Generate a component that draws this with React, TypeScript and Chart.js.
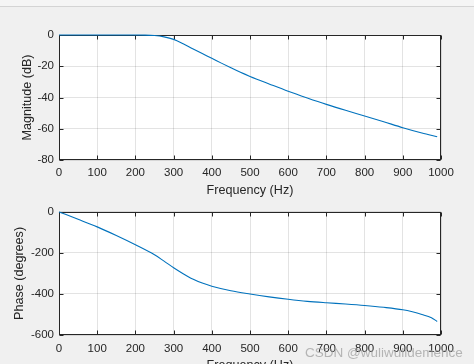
import React, { useEffect, useRef } from "react";
import { Chart, registerables } from "chart.js";
Chart.register(...registerables);

// ---- data ----
const magFreqHz = [0, 50, 100, 150, 200, 225, 250, 275, 300, 325, 350, 375, 400, 425, 450, 475, 500, 550, 600, 650, 700, 750, 800, 850, 900, 950, 990];
const magnitudeDb = [0, 0, 0, 0, 0, -0.05, -0.35, -1.2, -2.8, -5.6, -8.8, -11.9, -14.9, -18.0, -21.0, -23.9, -26.5, -31.3, -36.0, -40.3, -44.4, -48.2, -51.8, -55.5, -59.3, -62.7, -65.1];
const phaseFreqHz = [0, 50, 100, 150, 200, 250, 275, 300, 325, 350, 375, 400, 450, 500, 550, 600, 650, 700, 750, 800, 850, 900, 925, 950, 975, 990];
const phaseDeg = [0, -36, -73, -115, -160, -209, -240, -272, -301, -327, -347, -362, -384, -400, -414, -426, -436, -443, -449, -456, -465, -477, -487, -500, -516, -534];
const freqTicks = [0, 100, 200, 300, 400, 500, 600, 700, 800, 900, 1000];
const magTicks = [-80, -60, -40, -20, 0];
const phaseTicks = [-600, -400, -200, 0];

const FONT = "'Liberation Sans', Arial, Helvetica, sans-serif";
const INK = "#262626";
const LINE = "#0072BD";

const boxPlugin = {
  id: "matlabBox",
  beforeDraw(chart: any) {
    const { ctx, chartArea: a } = chart;
    ctx.save();
    ctx.fillStyle = "#ffffff";
    ctx.fillRect(a.left, a.top, a.right - a.left, a.bottom - a.top);
    ctx.restore();
  },
  beforeDatasetsDraw(chart: any) {
    const { ctx, chartArea: a, scales } = chart;
    ctx.save();
    ctx.strokeStyle = INK;
    ctx.lineWidth = 1;
    const L = Math.round(a.left) + 0.5;
    const R = Math.round(a.right) - 0.5;
    const T = Math.round(a.top) + 0.5;
    const B = Math.round(a.bottom) - 0.5;
    ctx.strokeRect(L, T, R - L, B - T);
    const tl = 4;
    ctx.beginPath();
    for (const t of scales.x.ticks) {
      const px = Math.round(scales.x.getPixelForValue(t.value)) + 0.5;
      ctx.moveTo(px, B);
      ctx.lineTo(px, B - tl);
      ctx.moveTo(px, T);
      ctx.lineTo(px, T + tl);
    }
    for (const t of scales.y.ticks) {
      const py = Math.round(scales.y.getPixelForValue(t.value)) + 0.5;
      ctx.moveTo(L, py);
      ctx.lineTo(L + tl, py);
      ctx.moveTo(R, py);
      ctx.lineTo(R - tl, py);
    }
    ctx.stroke();
    ctx.restore();
  },
};

function makeConfig(
  xs: number[],
  ys: number[],
  yTicks: number[],
  yTitle: string,
  yTitlePad: number,
  padTop: number,
  xAxisH: number,
  xTickPad: number,
  xTitlePad: number
): any {
  return {
    type: "line",
    data: {
      datasets: [
        {
          data: xs.map((x, i) => ({ x, y: ys[i] })),
          borderColor: LINE,
          borderWidth: 1.1,
          pointRadius: 0,
          cubicInterpolationMode: "monotone",
          clip: false,
        },
      ],
    },
    options: {
      responsive: false,
      animation: false,
      events: [],
      layout: { padding: { top: padTop, right: 33, left: 0, bottom: 0 } },
      plugins: { legend: { display: false }, tooltip: { enabled: false } },
      scales: {
        x: {
          type: "linear",
          min: freqTicks[0],
          max: freqTicks[freqTicks.length - 1],
          afterBuildTicks: (s: any) => {
            s.ticks = freqTicks.map((v) => ({ value: v }));
          },
          afterFit: (s: any) => {
            s.height = xAxisH;
          },
          grid: { color: "rgba(38,38,38,0.13)", drawTicks: false },
          border: { display: false },
          ticks: {
            padding: xTickPad,
            color: INK,
            font: { family: FONT, size: 11.5 },
            maxRotation: 0,
            autoSkip: false,
            callback: (v: any) => String(v),
          },
          title: {
            display: true,
            text: "Frequency (Hz)",
            color: INK,
            font: { family: FONT, size: 12.6 },
            padding: { top: 0, bottom: xTitlePad },
          },
        },
        y: {
          type: "linear",
          min: yTicks[0],
          max: yTicks[yTicks.length - 1],
          afterBuildTicks: (s: any) => {
            s.ticks = yTicks.map((v) => ({ value: v }));
          },
          afterFit: (s: any) => {
            s.width = 59;
          },
          grid: { color: "rgba(38,38,38,0.13)", drawTicks: false },
          border: { display: false },
          ticks: {
            padding: 5,
            color: INK,
            font: { family: FONT, size: 11.5 },
            autoSkip: false,
            callback: (v: any) => String(v),
          },
          title: {
            display: true,
            text: yTitle,
            color: INK,
            font: { family: FONT, size: 12.6 },
            padding: { top: yTitlePad, bottom: 0 },
          },
        },
      },
    },
    plugins: [boxPlugin],
  };
}

export default function App() {
  const topRef = useRef<HTMLCanvasElement | null>(null);
  const botRef = useRef<HTMLCanvasElement | null>(null);

  useEffect(() => {
    document.body.style.margin = "0";
    const c1 = new Chart(
      topRef.current as HTMLCanvasElement,
      makeConfig(magFreqHz, magnitudeDb, magTicks, "Magnitude (dB)", 19.5, 35, 40, 6, 2.4)
    );
    const c2 = new Chart(
      botRef.current as HTMLCanvasElement,
      makeConfig(phaseFreqHz, phaseDeg, phaseTicks, "Phase (degrees)", 12, 10, 45, 7, 7)
    );
    return () => {
      c1.destroy();
      c2.destroy();
    };
  }, []);

  return (
    <div
      style={{
        position: "absolute",
        left: 0,
        top: 0,
        width: 474,
        height: 364,
        overflow: "hidden",
        background: "#f0f0f0",
      }}
    >
      <div style={{ position: "absolute", left: 0, top: 0, width: 474, height: 6, background: "#f5f5f5", borderBottom: "1px solid #d4d4d4" }} />
      <canvas
        ref={topRef}
        width={474}
        height={200}
        style={{ position: "absolute", left: 0, top: 0, width: 474, height: 200, display: "block" }}
      />
      <canvas
        ref={botRef}
        width={474}
        height={180}
        style={{ position: "absolute", left: 0, top: 200, width: 474, height: 180, display: "block" }}
      />
      <div
        style={{
          position: "absolute",
          left: 305,
          top: 345,
          fontFamily: FONT,
          fontSize: 13.5,
          lineHeight: "16px",
          color: "rgba(160,160,160,0.75)",
          whiteSpace: "nowrap",
        }}
      >
        CSDN @wuliwulidemence
      </div>
    </div>
  );
}
